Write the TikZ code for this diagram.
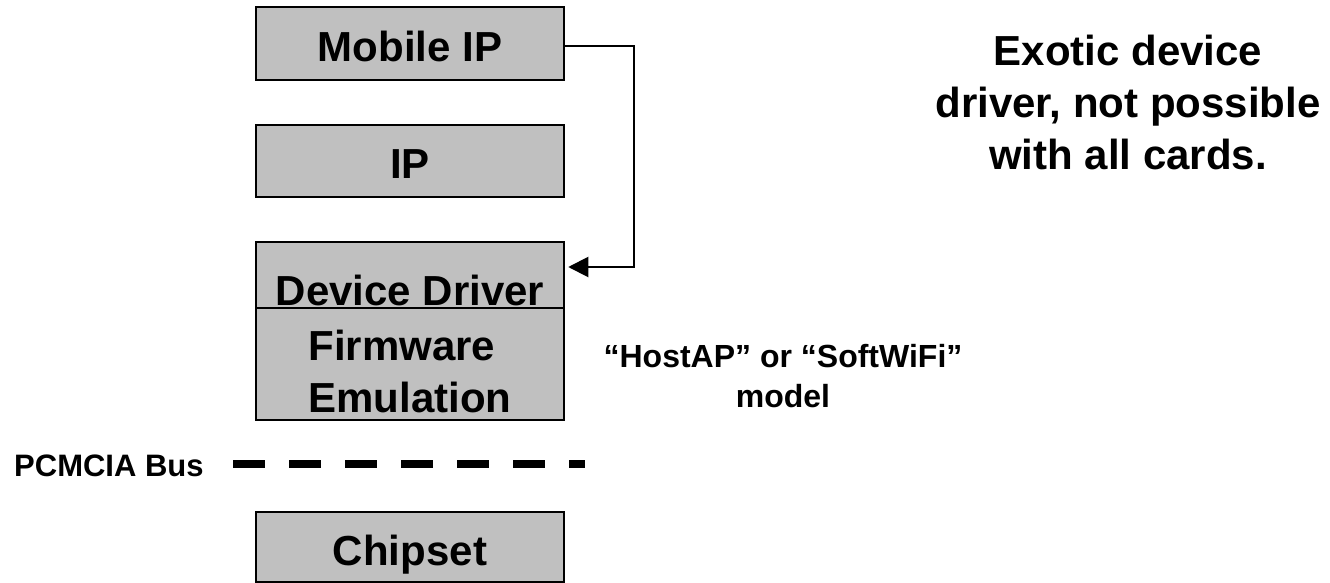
\documentclass[tikz,border=0pt]{standalone}
\usepackage{fontspec}
\setmainfont{Liberation Sans}
\usetikzlibrary{arrows.meta,calc}
\definecolor{boxgray}{HTML}{C0C0C0}
\begin{document}
\begin{tikzpicture}[x=1pt,y=-1pt,
  layer/.style={draw=black, fill=boxgray, line width=2.5pt, minimum width=308pt, inner sep=0pt,
    font=\fontsize{42}{52}\selectfont\bfseries, text depth=0pt},
  bigtext/.style={font=\fontsize{42}{52}\selectfont\bfseries, align=center, inner sep=0pt},
  note/.style={font=\fontsize{32}{40}\selectfont\bfseries, align=center, inner sep=0pt},
  conn/.style={line width=2pt, -{Triangle[length=20pt,width=20pt]}},
  bus/.style={line width=8pt, dash pattern=on 32pt off 24pt}]
\useasboundingbox (0,0) rectangle (1330,583);
\node[layer, minimum height=73pt, text height=37pt] (mip) at (410,43.5) {Mobile IP};
\node[layer, minimum height=72pt, text height=34pt] (ip) at (410,161) {IP};
\node[layer, minimum height=66pt, text height=60pt] (dd) at (410,275) {Device Driver};
\node[layer, minimum height=112pt, text height=96pt, align=left] (fw) at (410,364) {Firmware\\Emulation};
\node[layer, minimum height=70pt, text height=36pt] (chip) at (410,547) {Chipset};
\node[bigtext] (exotic) at (1128,102.7) {Exotic device\\driver, not possible\\with all cards.};
\node[note] (hostap) at (783,376.3) {“HostAP” or “SoftWiFi”\\model};
\node[font=\fontsize{31}{37}\selectfont\bfseries, anchor=base west, inner sep=0pt] (pcm) at (14,476) {PCMCIA Bus};
\coordinate (bs) at (233,464);
\coordinate (be) at (585,464);
\draw[bus] (bs) -- (be);
\coordinate (tip) at ($(dd.east)+(3,-8)$);
\draw[conn] ($(mip.east)+(0,2.5)$) -- ++(69,0) |- (tip);
\end{tikzpicture}
\end{document}
